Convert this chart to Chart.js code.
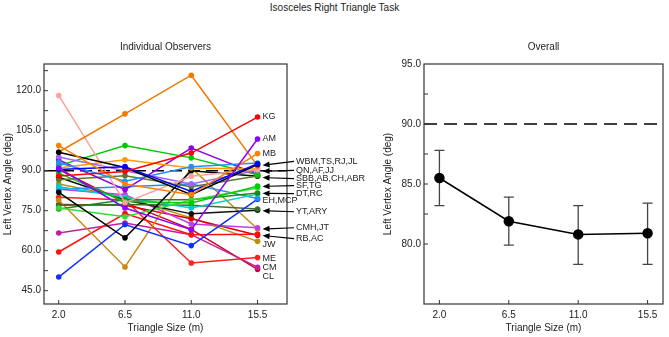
<!DOCTYPE html>
<html>
<head>
<meta charset="utf-8">
<script src="https://cdn.jsdelivr.net/npm/chart.js@4.4.0/dist/chart.umd.min.js"></script>
<style>
  body { margin: 0; background: #fff; width: 669px; height: 337px; position: relative; overflow: hidden; font-family: "Liberation Sans", Arial, sans-serif; }
  #page-title { position: absolute; top: 2px; left: 0; width: 669px; text-align: center; font-size: 10px; color: #222; }
  #indiv-box { position: absolute; left: 0; top: 0; width: 375px; height: 337px; }
  #overall-box { position: absolute; left: 375px; top: 0; width: 294px; height: 337px; }
</style>
</head>
<body>
<div id="page-title">Isosceles Right Triangle Task</div>
<div id="indiv-box"><canvas id="indiv-chart"></canvas></div>
<div id="overall-box"><canvas id="overall-chart"></canvas></div>
<script>
// Triangle sizes (x axis) and reference angle
const sizes = [2.0, 6.5, 11.0, 15.5];
const rightAngle = 90;

// Individual observers: left vertex angle (deg) at each size
const observerNames = ["KG", "AM", "MB", "WBM", "TS", "RJ", "JL", "QN", "AF", "JJ",
  "SBB", "AB", "CH", "ABR", "SF", "TG", "DT", "RC", "EH", "MCP",
  "YT", "ARY", "CMH", "JT", "RB", "AC", "JW", "ME", "CM", "CL"];
const observerAngles = [
  [88.0, 89.7, 96.6, 110.1],
  [91.0, 76.0, 67.9, 101.9],
  [99.4, 85.0, 81.0, 96.4],
  [90.4, 91.5, 82.2, 92.6],
  [96.9, 91.2, 81.0, 92.3],
  [97.0, 111.3, 125.8, 91.8],
  [93.0, 86.0, 91.5, 92.9],
  [118.2, 78.0, 87.9, 90.4],
  [95.1, 90.0, 85.0, 90.2],
  [91.0, 94.1, 91.0, 90.6],
  [91.9, 99.4, 94.8, 88.5],
  [94.0, 82.9, 98.5, 88.6],
  [86.6, 88.1, 84.0, 88.0],
  [81.9, 64.8, 90.0, 87.9],
  [89.1, 78.4, 77.9, 84.2],
  [76.0, 72.7, 79.0, 83.5],
  [75.6, 79.1, 79.1, 81.6],
  [84.0, 80.0, 76.0, 81.2],
  [83.0, 84.0, 85.0, 79.6],
  [50.1, 69.8, 61.9, 79.3],
  [77.0, 77.3, 77.0, 75.6],
  [87.5, 79.0, 73.8, 75.2],
  [83.0, 81.0, 70.0, 68.6],
  [78.9, 53.9, 91.0, 68.1],
  [59.5, 73.9, 66.0, 66.2],
  [77.3, 77.0, 72.0, 65.8],
  [85.0, 80.0, 72.3, 63.5],
  [80.0, 79.0, 55.4, 57.4],
  [66.6, 70.4, 66.0, 53.8],
  [90.4, 78.0, 68.0, 53.0],
];
const observerColors = ["#ff0000", "#8f00ff", "#ff8000", "#0000ff", "#000000", "#f07800", "#1e90ff", "#ffa09a", "#a060ff", "#ff9a00",
  "#00c800", "#9000e0", "#5a7a2a", "#000000", "#00cc00", "#33dd33", "#1a8a1a", "#00cccc", "#2090ff", "#1030ff",
  "#3a6e30", "#111111", "#c040e0", "#c88a14", "#ff1010", "#e00000", "#b8900a", "#ff2020", "#c020a0", "#d00020"];

// Right-hand labels: text, angle where text sits, angle the arrow points at
const noteText = ["KG", "AM", "MB", "WBM,TS,RJ,JL", "QN,AF,JJ", "SBB,AB,CH,ABR", "SF,TG", "DT,RC",
  "EH,MCP", "YT,ARY", "CMH,JT", "RB,AC", "JW", "ME", "CM", "CL"];
const noteAt = [110.2, 102.0, 96.4, 93.5, 90.1, 87.0, 84.4, 81.4, 78.8, 74.6, 68.6, 64.5, 62.4, 57.1, 53.6, 50.2];
const notePoint = [null, null, null, 92.0, 89.8, 87.4, 84.1, 81.5, null, 75.0, 68.1, 65.7, null, null, null, null];

// Overall mean and error bar ends
const overallMean = [85.5, 81.9, 80.8, 80.9];
const overallLow = [83.2, 79.9, 78.3, 78.3];
const overallHigh = [87.8, 83.9, 83.2, 83.4];

// Tick values
const leftYLabels = [45, 60, 75, 90, 105, 120];
const rightYLabels = [80, 85, 90, 95];

const FONT = { family: "'Liberation Sans', Arial, sans-serif", size: 10 };
const TEXT = "#222";

function withMinor(labels, step, max) {
  const out = [];
  labels.forEach(v => { out.push(v); if (v + step < max) out.push(v + step); });
  return out;
}

// frame box and inward ticks
const frameTicks = {
  id: "frameTicks",
  afterDatasetsDraw(chart) {
    const { ctx, chartArea: a, scales } = chart;
    ctx.save();
    ctx.strokeStyle = "#333";
    ctx.lineWidth = 1.2;
    ctx.strokeRect(a.left, a.top, a.right - a.left, a.bottom - a.top);
    ctx.lineWidth = 1;
    ctx.beginPath();
    scales.y.ticks.forEach(t => {
      const y = scales.y.getPixelForValue(t.value);
      if (y <= a.top + 1 || y >= a.bottom - 1) return;
      ctx.moveTo(a.left, y);
      ctx.lineTo(a.left + 4, y);
    });
    scales.x.ticks.forEach(t => {
      const x = scales.x.getPixelForValue(t.value);
      ctx.moveTo(x, a.bottom);
      ctx.lineTo(x, a.bottom - 4);
    });
    ctx.stroke();
    ctx.restore();
  },
};

// labels on the right of the individual panel
const observerNotes = {
  id: "observerNotes",
  afterDatasetsDraw(chart) {
    const { ctx, chartArea: a, scales } = chart;
    const px = scales.x.getPixelForValue(sizes[sizes.length - 1]);
    ctx.save();
    ctx.font = "9px 'Liberation Sans', Arial, sans-serif";
    ctx.fillStyle = TEXT;
    ctx.strokeStyle = "#000";
    ctx.textBaseline = "middle";
    ctx.textAlign = "left";
    noteText.forEach((txt, i) => {
      const ty = scales.y.getPixelForValue(noteAt[i]);
      if (notePoint[i] === null) {
        ctx.fillText(txt, px + 5, ty);
        return;
      }
      const tx = a.right + 9;
      ctx.fillText(txt, tx, ty);
      const py = scales.y.getPixelForValue(notePoint[i]);
      const x0 = tx - 2, x1 = px + 5;
      ctx.lineWidth = 1.2;
      ctx.beginPath();
      ctx.moveTo(x0, ty);
      ctx.lineTo(x1 + 5, py + (ty - py) * 5 / (x0 - x1));
      ctx.stroke();
      const ang = Math.atan2(ty - py, x0 - x1);
      ctx.beginPath();
      ctx.moveTo(x1, py);
      ctx.lineTo(x1 + 7 * Math.cos(ang) - 3 * Math.sin(ang), py + 7 * Math.sin(ang) + 3 * Math.cos(ang));
      ctx.lineTo(x1 + 7 * Math.cos(ang) + 3 * Math.sin(ang), py + 7 * Math.sin(ang) - 3 * Math.cos(ang));
      ctx.closePath();
      ctx.fillStyle = "#000";
      ctx.fill();
      ctx.fillStyle = TEXT;
    });
    ctx.restore();
  },
};

// error bars for the overall panel
const errorBars = {
  id: "errorBars",
  beforeDatasetsDraw(chart) {
    const { ctx, scales } = chart;
    ctx.save();
    ctx.strokeStyle = "#444";
    ctx.lineWidth = 1.3;
    ctx.beginPath();
    sizes.forEach((s, i) => {
      const x = scales.x.getPixelForValue(s);
      const lo = scales.y.getPixelForValue(overallLow[i]);
      const hi = scales.y.getPixelForValue(overallHigh[i]);
      ctx.moveTo(x, lo); ctx.lineTo(x, hi);
      ctx.moveTo(x - 5, lo); ctx.lineTo(x + 5, lo);
      ctx.moveTo(x - 5, hi); ctx.lineTo(x + 5, hi);
    });
    ctx.stroke();
    ctx.restore();
  },
};

function makeScales(xMin, xMax, yMin, yMax, yLabels, yStep, yWidth, titlePad) {
  return {
    x: {
      type: "linear",
      min: xMin,
      max: xMax,
      afterBuildTicks: axis => { axis.ticks = sizes.map(v => ({ value: v })); },
      afterFit: axis => { axis.height = 33; },
      grid: { display: false, drawTicks: false },
      border: { display: false },
      ticks: { padding: 5, color: TEXT, font: FONT, autoSkip: false, maxRotation: 0, callback: v => Number(v).toFixed(1) },
      title: { display: true, text: "Triangle Size (m)", color: TEXT, font: FONT, padding: { top: 0, bottom: 3 } },
    },
    y: {
      type: "linear",
      min: yMin,
      max: yMax,
      afterBuildTicks: axis => { axis.ticks = withMinor(yLabels, yStep, yMax).map(v => ({ value: v })); },
      afterFit: axis => { axis.width = yWidth; },
      grid: { display: false, drawTicks: false },
      border: { display: false },
      ticks: {
        padding: 3, color: TEXT, font: FONT, autoSkip: false,
        callback: v => (yLabels.includes(v) ? Number(v).toFixed(1) : ""),
      },
      title: { display: true, text: "Left Vertex Angle (deg)", color: TEXT, font: FONT, padding: { top: titlePad, bottom: 0 } },
    },
  };
}

document.addEventListener("DOMContentLoaded", function () {
  // Individual observers panel
  const indivDatasets = observerNames.map((name, i) => ({
    label: name,
    data: sizes.map((s, j) => ({ x: s, y: observerAngles[i][j] })),
    borderColor: observerColors[i],
    backgroundColor: observerColors[i],
    borderWidth: 1.5,
    pointRadius: 2.8,
    pointBorderWidth: 0,
    tension: 0,
  }));
  indivDatasets.push({
    label: "90",
    data: [{ x: 1, y: rightAngle }, { x: 17.5, y: rightAngle }],
    borderColor: "#000",
    borderWidth: 1.5,
    borderDash: [12, 6],
    pointRadius: 0,
  });

  new Chart(document.getElementById("indiv-chart"), {
    type: "line",
    data: { datasets: indivDatasets },
    options: {
      responsive: true,
      maintainAspectRatio: false,
      animation: false,
      layout: { padding: { left: 0, right: 88, top: 0, bottom: 0 } },
      plugins: {
        legend: { display: false },
        tooltip: { enabled: false },
        title: {
          display: true, text: "Individual Observers", color: TEXT, font: { ...FONT, weight: "normal" },
          fullSize: false, padding: { top: 41, bottom: 11 },
        },
      },
      scales: makeScales(1, 17.5, 40, 130, leftYLabels, 7.5, 44, 2),
    },
    plugins: [frameTicks, observerNotes],
  });

  // Overall panel
  new Chart(document.getElementById("overall-chart"), {
    type: "line",
    data: {
      datasets: [
        {
          label: "Overall",
          data: sizes.map((s, i) => ({ x: s, y: overallMean[i] })),
          borderColor: "#000",
          backgroundColor: "#000",
          borderWidth: 1.5,
          pointRadius: 4.5,
          tension: 0,
        },
        {
          label: "90",
          data: [{ x: 1, y: rightAngle }, { x: 16.5, y: rightAngle }],
          borderColor: "#000",
          borderWidth: 1.5,
          borderDash: [13, 7],
          pointRadius: 0,
        },
      ],
    },
    options: {
      responsive: true,
      maintainAspectRatio: false,
      animation: false,
      layout: { padding: { left: 0, right: 1, top: 0, bottom: 0 } },
      plugins: {
        legend: { display: false },
        tooltip: { enabled: false },
        title: {
          display: true, text: "Overall", color: TEXT, font: { ...FONT, weight: "normal" },
          fullSize: false, padding: { top: 41, bottom: 11 },
        },
      },
      scales: makeScales(1, 16.5, 75, 95, rightYLabels, 2.5, 49, 7),
    },
    plugins: [errorBars, frameTicks],
  });
});
</script>
</body>
</html>
